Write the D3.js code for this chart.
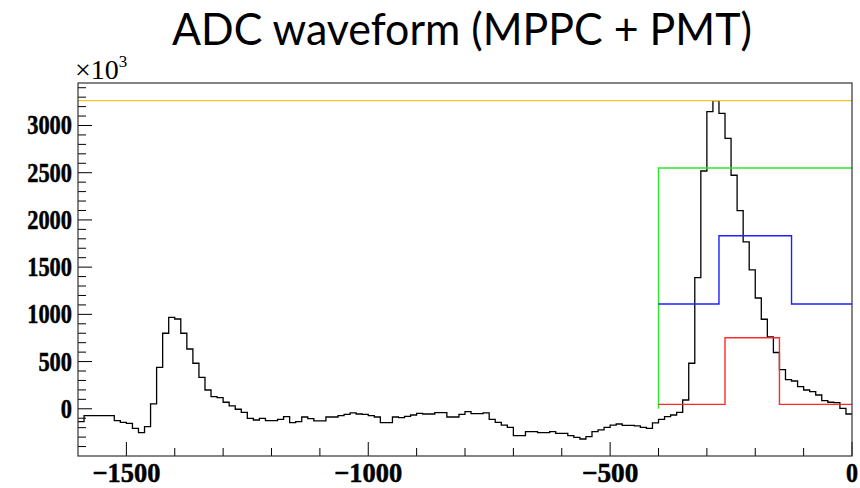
<!DOCTYPE html>
<html>
<head>
<meta charset="utf-8">
<script src="https://cdn.jsdelivr.net/npm/d3@7"></script>
<style>
  html, body { margin: 0; padding: 0; background: #fff; }
  svg { display: block; }
</style>
</head>
<body>
<svg id="chart" width="860" height="488"></svg>
<script>
// ---- data ----
const titleText = "ADC waveform (MPPC + PMT)";
const binStart = -1600;
const binWidth = 12.5;
const counts = [
  -135, -73, -73, -73, -73, -73, -126, -143, -154, -207,
  -253, -189, 51, 439, 800, 969, 951, 800, 633, 482,
  333, 199, 128, 118, 69, 30, -5, -37, -101, -119,
  -101, -126, -126, -112, -83, -147, -136, -87, -104, -129,
  -129, -87, -87, -73, -59, -44, -55, -59, -73, -87,
  -147, -147, -87, -94, -80, -66, -48, -55, -55, -41,
  -41, -87, -87, -59, -31, -52, -52, -44, -112, -143,
  -172, -196, -285, -285, -242, -242, -253, -253, -242, -260,
  -260, -285, -302, -320, -295, -242, -224, -196, -172, -161,
  -175, -175, -182, -196, -207, -150, -112, -83, -66, -37,
  93, 482, 1389, 2518, 3146, 3263, 3129, 2864, 2473, 2098,
  1767, 1470, 1173, 948, 760, 596, 415, 308, 294, 234,
  199, 181, 146, 86, 69, 65, 5, -55
];
const yellowX = [-1600, 0];
const yellowY = [3263, 3263];
const greenX = [-400, -400, 0];
const greenY = [0, 2550, 2550];
const blueX = [-400, -275, -275, -125, -125, 0];
const blueY = [1110, 1110, 1833, 1833, 1110, 1110];
const redX = [-400, -262.5, -262.5, -150, -150, 0];
const redY = [47, 47, 753, 753, 47, 47];
const xMajorTicks = [-1500, -1000, -500, 0];
const yMajorTicks = [0, 500, 1000, 1500, 2000, 2500, 3000];
const xDomain = [-1600, 0];
const yDomain = [-500, 3450];

// ---- layout ----
const svg = d3.select("#chart");
const L = 78, R = 852, T = 83, B = 456;
const x = d3.scaleLinear().domain(xDomain).range([L, R]);
const y = d3.scaleLinear().domain(yDomain).range([B, T]);

// title
svg.append("text")
  .attr("x", 462).attr("y", 45)
  .attr("text-anchor", "middle")
  .attr("font-family", "Lato, 'Open Sans', sans-serif")
  .attr("font-size", 44)
  .attr("textLength", 580).attr("lengthAdjust", "spacingAndGlyphs")
  .attr("fill", "#000")
  .text(titleText);

// clip
svg.append("defs").append("clipPath").attr("id", "clip")
  .append("rect").attr("x", L).attr("y", T).attr("width", R - L).attr("height", B - T);

const plot = svg.append("g").attr("clip-path", "url(#clip)");

// histogram
const pts = counts.map((c, i) => [binStart + i * binWidth, c]);
pts.push([binStart + counts.length * binWidth, counts[counts.length - 1]]);
const stepLine = d3.line().x(d => x(d[0])).y(d => y(d[1])).curve(d3.curveStepAfter);
plot.append("path").attr("d", stepLine(pts))
  .attr("fill", "none").attr("stroke", "#000").attr("stroke-width", 1.3);

// overlays
const line = d3.line().x(d => x(d[0])).y(d => y(d[1]));
function overlay(xs, ys, color) {
  plot.append("path").attr("d", line(xs.map((v, i) => [v, ys[i]])))
    .attr("fill", "none").attr("stroke", color).attr("stroke-width", 1.4);
}
overlay(greenX, greenY, "#2ee62e");
overlay(blueX, blueY, "#1f1fff");
overlay(redX, redY, "#ff2a2a");
overlay(yellowX, yellowY, "#f2c232");

// axes
const labelFont = "'Liberation Serif', 'Times New Roman', serif";
const gx = svg.append("g").attr("transform", `translate(0,${B})`);
gx.selectAll("line.tk").data(d3.range(-1500, 1, 100)).enter().append("line")
  .attr("x1", d => x(d)).attr("x2", d => x(d))
  .attr("y1", 0).attr("y2", d => (xMajorTicks.includes(d) ? -14 : -8))
  .attr("stroke", "#000").attr("stroke-width", 1);
gx.selectAll("text").data(xMajorTicks).enter().append("text")
  .attr("x", d => x(d)).attr("y", 26)
  .attr("text-anchor", "middle")
  .attr("font-family", labelFont)
  .attr("font-weight", "bold").attr("font-size", 27)
  .attr("stroke", "#000").attr("stroke-width", 0.5)
  .attr("textLength", d => d < 0 ? 22 + 11.5 * String(Math.abs(d)).length : 12)
  .attr("lengthAdjust", "spacingAndGlyphs")
  .text(d => d < 0 ? "\u2212" + Math.abs(d) : String(d));

const gy = svg.append("g").attr("transform", `translate(${L},0)`);
gy.selectAll("line.tk").data(d3.range(-400, 3450, 100)).enter().append("line")
  .attr("y1", d => y(d)).attr("y2", d => y(d))
  .attr("x1", 0).attr("x2", d => (yMajorTicks.includes(d) ? 14 : 8))
  .attr("stroke", "#000").attr("stroke-width", 1);
gy.selectAll("text").data(yMajorTicks).enter().append("text")
  .attr("x", -6).attr("y", d => y(d) + 9)
  .attr("text-anchor", "end")
  .attr("font-family", labelFont)
  .attr("font-weight", "bold").attr("font-size", 27)
  .attr("stroke", "#000").attr("stroke-width", 0.5)
  .attr("textLength", d => 11.2 * String(d).length)
  .attr("lengthAdjust", "spacingAndGlyphs")
  .text(d => String(d));

// frame
svg.append("rect").attr("x", L).attr("y", T).attr("width", R - L).attr("height", B - T)
  .attr("fill", "none").attr("stroke", "#333").attr("stroke-width", 1.2);

// exponent label
const ex = svg.append("text").attr("x", 75).attr("y", 79)
  .attr("font-family", labelFont)
  .attr("font-size", 28).attr("fill", "#000");
ex.append("tspan").text("\u00d710");
ex.append("tspan").attr("font-size", 17).attr("dy", -12).text("3");
</script>
</body>
</html>
